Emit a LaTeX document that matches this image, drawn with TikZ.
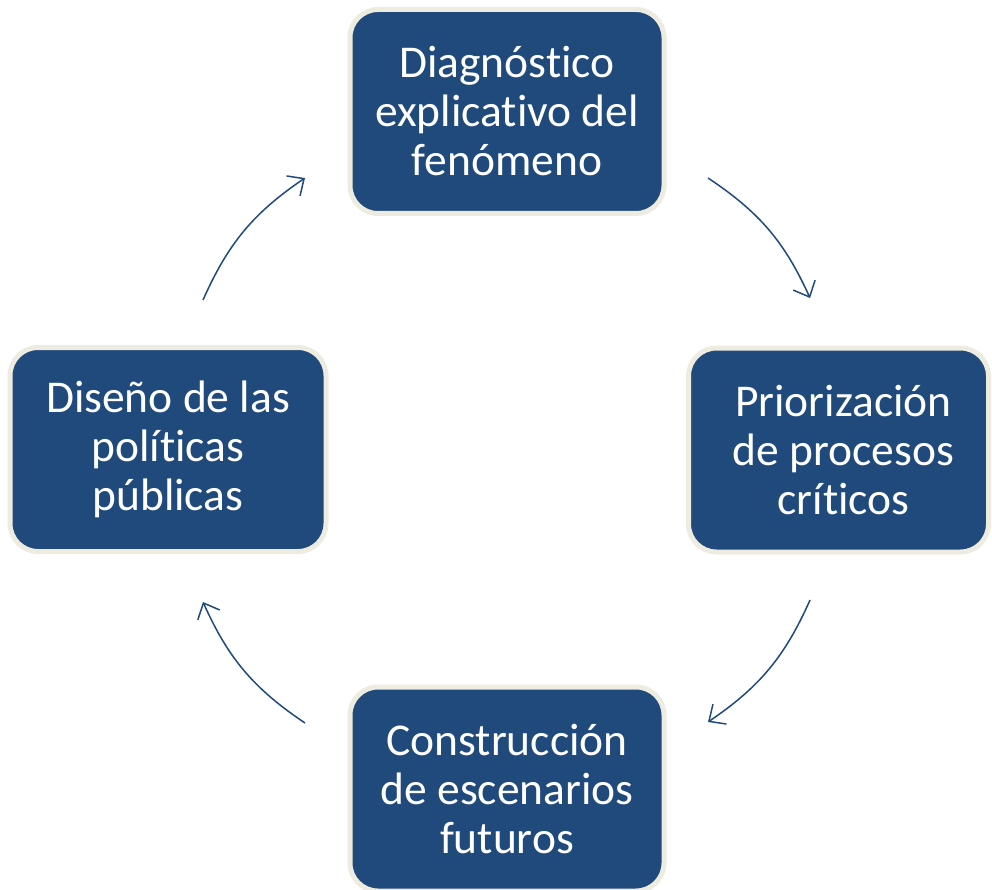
\documentclass[tikz,border=0pt]{standalone}
\usepackage{fontspec}
\setmainfont[Ligatures=NoCommon]{Carlito}
\usetikzlibrary{arrows.meta}
\definecolor{boxblue}{HTML}{214A7C}
\definecolor{boxrim}{HTML}{EEECE1}
\definecolor{arrowblue}{HTML}{1F4A7C}
\begin{document}
\begin{tikzpicture}[x=1pt,y=1pt,
  stepbox/.style={draw=boxrim, line width=5pt, fill=boxblue, rounded corners=28pt,
    minimum width=#1, minimum height=204pt, inner sep=0pt, text=white, align=center,
    font=\fontsize{45.5}{49}\selectfont},
  cyc/.style={draw=arrowblue, line width=1.5pt, -{Straight Barb[length=13pt,width=24pt,line width=1.5pt]}, bend left=16}]
\useasboundingbox (0,0) rectangle (992,-890);
\node[stepbox=314pt] (diag) at (507,-111.5) {Diagnóstico\\explicativo del\\fenómeno};
\node[stepbox=300pt] (prio) at (838.5,-450) {\hspace*{10pt}Priorización\\\hspace*{10pt}de procesos\\\hspace*{10pt}críticos};
\node[stepbox=314pt] (cons) at (507,-789) {Construcción\\de escenarios\\futuros};
\node[stepbox=316pt] (dise) at (168,-449.5) {Diseño de las\\políticas\\públicas};
\coordinate (a1s) at (708,-178);
\coordinate (a1e) at (810,-298);
\coordinate (a2s) at (810,-600);
\coordinate (a2e) at (708,-722);
\coordinate (a3s) at (305,-723);
\coordinate (a3e) at (203,-602);
\coordinate (a4s) at (203,-300);
\coordinate (a4e) at (305,-178);
\draw[cyc] (a1s) to (a1e);
\draw[cyc] (a2s) to (a2e);
\draw[cyc] (a3s) to (a3e);
\draw[cyc] (a4s) to (a4e);
\end{tikzpicture}
\end{document}
